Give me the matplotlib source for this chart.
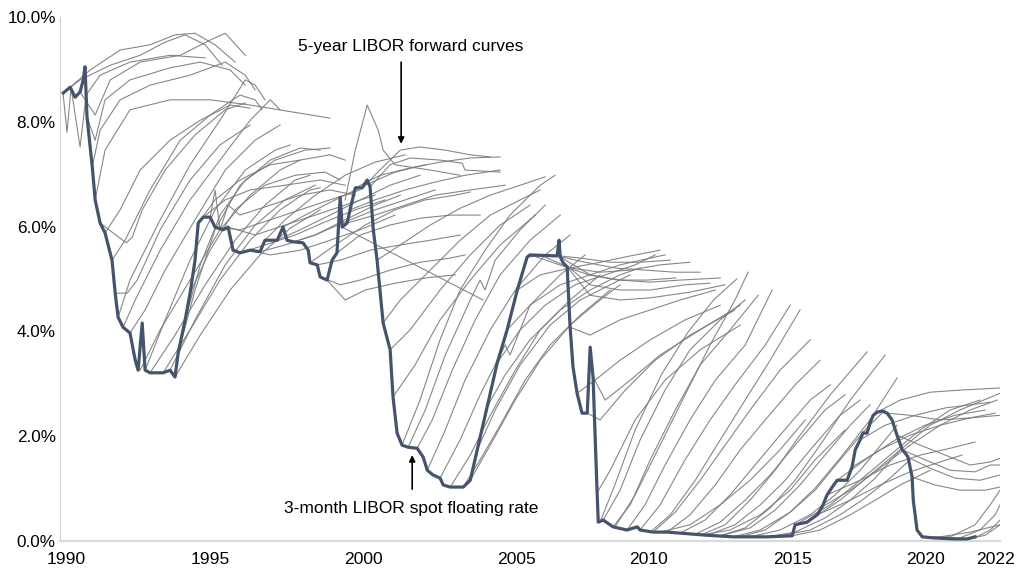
"""
3-month LIBOR spot rate against the 5-year LIBOR forward curves, 1990-2022.
Writes out.png.
"""

import matplotlib
matplotlib.use("Agg")
import matplotlib.pyplot as plt


# 3-month LIBOR spot floating rate (%)
SPOT_YEARS = [
    1989.90, 1990.14, 1990.31, 1990.48, 1990.59, 1990.65, 1990.72, 1990.90, 1991.00, 1991.17,
    1991.34, 1991.58, 1991.69, 1991.79, 1991.96, 1992.20, 1992.38, 1992.48, 1992.62, 1992.72,
    1992.89, 1993.34, 1993.58, 1993.75, 1993.86, 1994.10, 1994.27, 1994.44, 1994.55, 1994.72,
    1994.96, 1995.13, 1995.41, 1995.58, 1995.75, 1995.99, 1996.34, 1996.68, 1996.85, 1997.27,
    1997.47, 1997.61, 1997.82, 1998.16, 1998.34, 1998.40, 1998.65, 1998.75, 1998.99, 1999.16,
    1999.33, 1999.44, 1999.51, 1999.68, 1999.78, 1999.96, 2000.20, 2000.37, 2000.47, 2000.58,
    2000.71, 2000.92, 2001.16, 2001.26, 2001.40, 2001.57, 2001.78, 2002.09, 2002.30, 2002.44,
    2002.64, 2002.88, 2002.99, 2003.23, 2003.68, 2003.92, 2004.16, 2004.50, 2004.85, 2005.19,
    2005.54, 2005.88, 2005.98, 2006.91, 2006.98, 2007.02, 2007.12, 2007.26, 2007.29, 2007.36,
    2007.46, 2007.60, 2007.77, 2007.95, 2008.05, 2008.15, 2008.29, 2008.33, 2008.50, 2008.84,
    2009.32, 2009.67, 2009.77, 2010.22, 2010.70, 2011.15, 2012.08, 2012.98, 2014.15, 2015.01,
    2015.11, 2015.52, 2015.87, 2016.04, 2016.21, 2016.39, 2016.56, 2016.90, 2017.07, 2017.18,
    2017.35, 2017.45, 2017.59, 2017.69, 2017.80, 2017.94, 2018.11, 2018.28, 2018.45, 2018.62,
    2018.80, 2018.90, 2019.00, 2019.14, 2019.18, 2019.31, 2019.49, 2019.86, 2020.55, 2021.04,
    2021.31,
]
SPOT_RATES = [
    8.55, 8.66, 8.47, 8.57, 8.80, 9.05, 8.09, 7.14, 6.51, 6.07,
    5.88, 5.36, 4.73, 4.27, 4.08, 3.97, 3.45, 3.26, 4.16, 3.26,
    3.21, 3.21, 3.26, 3.13, 3.59, 4.22, 4.73, 5.36, 6.07, 6.18,
    6.18, 5.99, 5.94, 5.99, 5.55, 5.50, 5.55, 5.52, 5.74, 5.74,
    5.99, 5.74, 5.71, 5.69, 5.55, 5.31, 5.27, 5.04, 4.98, 5.36,
    5.50, 6.56, 5.99, 6.07, 6.32, 6.74, 6.74, 6.89, 6.76, 5.94,
    5.36, 4.16, 3.65, 2.75, 2.06, 1.83, 1.79, 1.77, 1.60, 1.35,
    1.26, 1.20, 1.07, 1.03, 1.03, 1.16, 1.74, 2.56, 3.40, 4.03,
    4.79, 5.42, 5.46, 5.44, 5.74, 5.42, 5.31, 5.23, 4.85, 4.08,
    3.32, 2.82, 2.44, 2.44, 3.70, 3.13, 0.92, 0.36, 0.40, 0.27,
    0.21, 0.27, 0.21, 0.17, 0.17, 0.15, 0.11, 0.08, 0.08, 0.10,
    0.31, 0.36, 0.50, 0.65, 0.88, 1.03, 1.16, 1.16, 1.41, 1.74,
    1.93, 2.06, 2.06, 2.25, 2.40, 2.46, 2.48, 2.44, 2.31, 2.02,
    1.74, 1.68, 1.60, 1.22, 0.78, 0.21, 0.08, 0.06, 0.04, 0.04,
    0.08,
]

# 5-year LIBOR forward curves: one (years, rates) pair per curve
FWD_YEARS = [
    # 1990-1991
    [1989.90, 1990.03, 1990.17, 1990.48, 1990.69, 1991.17, 1992.20, 1993.58, 1994.79],
    [1989.90, 1990.48, 1991.52, 1992.55, 1993.41, 1994.10, 1994.79, 1995.37],
    [1990.14, 1990.83, 1991.86, 1992.89, 1993.75, 1994.44, 1995.13, 1995.82],
    [1990.48, 1991.00, 1991.52, 1992.55, 1993.93, 1994.96, 1995.48, 1996.17],
    [1990.72, 1991.00, 1991.34, 1992.20, 1993.58, 1994.62, 1995.65, 1996.17],
    [1990.90, 1991.17, 1991.86, 1992.89, 1994.27, 1995.48, 1996.17, 1996.51],
    [1991.00, 1991.34, 1992.20, 1993.58, 1994.96, 1996.34, 1999.09],
    [1991.58, 1992.03, 1992.89, 1993.93, 1994.96, 1995.99, 1996.51, 1996.75],
    [1991.79, 1992.20, 1993.24, 1994.27, 1995.30, 1996.17, 1996.51, 1996.85],
    [1991.96, 1992.38, 1993.24, 1994.27, 1995.30, 1996.34, 1997.03, 1997.37],
    [1992.20, 1992.72, 1993.41, 1994.44, 1995.48, 1996.51, 1997.37],
    [1991.34, 1991.86, 1992.55, 1993.58, 1994.62, 1995.65, 1996.34],
    [1991.17, 1991.62, 1992.07, 1992.28, 1992.62, 1993.41, 1994.44, 1995.48, 1996.17],
    [1991.69, 1992.10, 1992.45, 1993.24, 1994.27, 1995.30, 1996.34],
    # 1992-1994 trough
    [1992.55, 1993.24, 1994.27, 1995.30, 1996.34, 1997.37, 1998.06],
    [1992.89, 1993.75, 1994.79, 1995.82, 1996.85, 1997.89, 1998.40],
    [1993.34, 1994.27, 1995.30, 1996.34, 1997.37, 1998.40, 1998.75],
    [1993.75, 1994.62, 1995.65, 1996.68, 1997.72, 1998.75],
    [1993.58, 1994.44, 1995.48, 1996.51, 1997.54, 1998.58],
    [1992.72, 1993.41, 1994.27, 1995.13, 1996.17, 1997.20, 1997.72],
    [1993.86, 1994.44, 1995.13, 1995.99, 1997.03, 1998.06, 1998.75],
    [1994.10, 1994.62, 1995.30, 1996.17, 1997.20, 1998.23, 1999.09],
    # 1994-1995
    [1994.27, 1994.96, 1995.82, 1996.85, 1997.89, 1998.92, 1999.44],
    [1994.55, 1995.13, 1995.99, 1997.03, 1998.06, 1999.09, 1999.61],
    [1994.72, 1995.48, 1996.34, 1997.54, 1998.75, 1999.61],
    [1994.96, 1995.13, 1995.30, 1995.58, 1995.99, 1997.03, 1998.06, 1999.09, 1999.96],
    # 1995-1998
    [1995.13, 1995.99, 1997.03, 1998.06, 1999.09, 2000.13],
    [1995.58, 1996.51, 1997.54, 1998.58, 1999.61, 2000.64],
    [1995.99, 1996.85, 1997.89, 1998.92, 1999.96, 2000.99],
    [1996.68, 1997.54, 1998.58, 1999.61, 2000.64, 2001.51],
    [1997.27, 1998.06, 1999.09, 2000.13, 2001.16, 2002.19],
    [1997.82, 1998.58, 1999.61, 2000.64, 2001.68, 2002.71],
    [1996.34, 1997.03, 1998.06, 1999.09, 2000.13, 2001.33],
    [1996.85, 1997.54, 1998.58, 1999.61, 2000.64, 2001.68],
    [1997.47, 1998.23, 1999.27, 2000.30, 2001.33, 2002.37],
    [1998.75, 1999.44, 2000.13, 2001.16, 2002.19, 2003.23, 2003.74],
    [1998.99, 1999.61, 2000.30, 2001.33, 2002.37, 2003.40],
    [1998.65, 1999.44, 2000.47, 2001.51, 2002.54, 2003.57],
    [1998.40, 1999.27, 2000.30, 2001.33, 2002.37, 2003.40, 2003.92],
    # 1999-2000
    [1999.96, 2000.82, 2001.85, 2002.88, 2003.92, 2004.95],
    [2000.20, 2000.99, 2001.51, 2002.19, 2003.06, 2003.92, 2004.61],
    [2000.47, 2001.16, 2001.85, 2002.88, 2003.64, 2003.74, 2004.95],
    [1999.78, 2000.64, 2001.68, 2002.71, 2003.74, 2004.95],
    [1999.68, 2000.64, 2001.68, 2002.71, 2003.92, 2005.12],
    [1999.51, 2001.85, 2004.36],
    [1999.61, 1999.96, 2000.37, 2000.75, 2000.92, 2001.33, 2002.54, 2003.57],
    [1999.33, 2000.13, 2001.16, 2002.19, 2003.23, 2004.26],
    # 2000-2001 fall
    [2000.71, 2001.51, 2002.54, 2003.57, 2004.61, 2005.64, 2006.50],
    [2000.92, 2001.51, 2002.54, 2003.57, 2004.61, 2005.64, 2006.33],
    [2001.16, 2001.85, 2002.88, 2003.92, 2004.95, 2005.98],
    [2001.26, 2002.02, 2002.88, 2003.92, 2004.95, 2006.16],
    # 2001-2004 low
    [2001.57, 2002.19, 2002.88, 2003.57, 2004.43, 2005.29, 2006.33, 2006.84],
    [2001.78, 2002.37, 2003.06, 2003.92, 2004.26, 2004.43, 2004.78, 2005.64, 2006.50],
    [2002.09, 2002.61, 2003.30, 2004.09, 2004.95, 2005.98, 2007.02],
    [2002.44, 2003.06, 2003.74, 2004.61, 2005.47, 2006.50, 2007.36],
    [2002.88, 2003.57, 2004.26, 2005.12, 2005.29, 2005.98, 2007.02, 2007.88],
    [2003.23, 2003.92, 2004.61, 2005.47, 2006.33, 2007.36, 2008.39],
    [2003.68, 2004.26, 2004.95, 2005.81, 2006.67, 2007.71, 2008.74],
    [2003.92, 2004.61, 2005.47, 2006.33, 2007.36, 2008.39, 2009.08],
    # 2004-2006 rise
    [2004.16, 2004.78, 2005.64, 2006.67, 2007.71, 2008.74, 2009.43],
    [2004.50, 2005.12, 2005.98, 2007.02, 2008.05, 2009.08, 2009.77],
    [2004.85, 2005.64, 2006.50, 2007.53, 2008.57, 2009.60, 2010.29],
    [2005.19, 2005.98, 2007.02, 2008.05, 2009.08, 2010.12, 2010.63],
    [2005.54, 2006.33, 2007.36, 2008.39, 2009.43, 2010.46],
    [2005.88, 2006.67, 2007.71, 2008.74, 2009.77, 2010.81],
    # 2006-2007 plateau
    [2006.91, 2007.88, 2008.91, 2009.94, 2010.98, 2011.84],
    [2007.02, 2008.05, 2009.08, 2010.12, 2011.15, 2012.53],
    [2007.12, 2008.05, 2009.08, 2010.12, 2011.32, 2012.18],
    [2006.33, 2007.36, 2008.39, 2009.43, 2010.46, 2011.49],
    [2007.26, 2008.05, 2009.08, 2010.12, 2011.49, 2012.70],
    [2006.00, 2007.00, 2008.00, 2009.00, 2010.00, 2011.00],
    # 2007-2008 crisis
    [2007.36, 2008.05, 2009.08, 2010.12, 2011.15, 2012.36],
    [2007.60, 2008.22, 2009.08, 2010.12, 2011.32, 2012.53],
    [2007.95, 2008.39, 2009.26, 2010.29, 2011.49, 2013.04],
    [2008.15, 2008.57, 2009.43, 2010.46, 2011.84, 2013.22],
    [2008.29, 2008.74, 2009.60, 2010.63, 2011.84, 2013.22],
    # 2008-2015 near zero
    [2008.39, 2008.90, 2009.60, 2010.50, 2011.40, 2012.30, 2013.10],
    [2008.50, 2009.08, 2009.77, 2010.63, 2011.49, 2012.53, 2013.39],
    [2008.84, 2009.43, 2010.12, 2010.98, 2011.84, 2012.87, 2013.84],
    [2009.32, 2009.94, 2010.63, 2011.49, 2012.36, 2013.39, 2014.32],
    [2009.77, 2010.46, 2011.32, 2012.18, 2013.04, 2014.08, 2014.94],
    [2010.22, 2010.98, 2011.84, 2012.70, 2013.56, 2014.59, 2015.63],
    [2010.70, 2011.49, 2012.36, 2013.22, 2014.08, 2015.11, 2015.97],
    [2011.15, 2012.01, 2012.87, 2013.73, 2014.59, 2015.63, 2016.32],
    [2011.67, 2012.53, 2013.39, 2014.25, 2015.11, 2016.14, 2016.83],
    [2012.08, 2013.04, 2013.91, 2014.77, 2015.63, 2016.66, 2017.35],
    [2012.53, 2013.56, 2014.42, 2015.28, 2016.14, 2017.01, 2017.69],
    [2012.98, 2013.91, 2014.94, 2015.80, 2016.66, 2017.52, 2018.21],
    [2013.56, 2014.59, 2015.63, 2016.49, 2017.35, 2018.21, 2018.62],
    [2014.15, 2015.11, 2016.14, 2017.01, 2017.87, 2018.73],
    [2014.59, 2015.63, 2016.66, 2017.52, 2018.38, 2019.07],
    [2015.01, 2015.97, 2017.01, 2017.87, 2018.73, 2019.76],
    [2010.46, 2011.49, 2012.53, 2013.56, 2014.59, 2015.46],
    [2011.84, 2012.87, 2013.91, 2014.94, 2015.80, 2016.83],
    [2011.84, 2012.70, 2013.56, 2014.42, 2015.28, 2016.32, 2017.59],
    [2012.53, 2013.39, 2014.25, 2015.11, 2015.97, 2017.01, 2018.21],
    [2013.22, 2014.08, 2014.94, 2015.80, 2016.66, 2017.69, 2018.62],
    [2010.12, 2010.81, 2011.67, 2012.53, 2013.39, 2014.25, 2015.28],
    [2008.91, 2009.60, 2010.46, 2011.32, 2012.18, 2013.04, 2013.49],
    # 2015-2018 hikes
    [2015.11, 2016.32, 2017.35, 2018.38, 2019.42, 2020.45, 2021.48],
    [2015.52, 2016.66, 2017.69, 2018.73, 2019.76, 2020.79, 2022.17],
    [2016.04, 2017.01, 2018.04, 2019.07, 2020.11, 2021.14, 2022.07],
    [2016.56, 2017.52, 2018.56, 2019.59, 2020.62, 2021.66],
    [2017.07, 2018.04, 2019.07, 2020.11, 2021.14, 2022.00],
    [2017.94, 2018.73, 2019.76, 2020.79, 2022.17],
    [2016.21, 2017.35, 2018.38, 2019.42, 2020.45, 2021.31],
    [2015.87, 2017.01, 2018.04, 2019.07, 2020.11, 2020.86],
    [2018.28, 2019.07, 2020.11, 2021.14, 2022.17],
    [2017.35, 2018.21, 2019.25, 2020.28, 2021.31, 2021.83],
    # 2018-2019 cuts
    [2018.62, 2019.42, 2020.28, 2021.14, 2021.83, 2022.17],
    [2018.80, 2019.59, 2020.45, 2021.31, 2021.83, 2022.17],
    [2019.00, 2019.76, 2020.62, 2021.48, 2022.17],
    [2019.14, 2019.93, 2020.79, 2021.66, 2022.17],
    # 2020-2022
    [2019.49, 2020.45, 2021.31, 2021.83, 2022.17],
    [2019.86, 2020.79, 2021.48, 2022.00, 2022.17],
    [2020.55, 2021.31, 2021.83, 2022.17],
    [2021.04, 2021.66, 2022.17],
    [2020.11, 2021.14, 2022.17],
]
FWD_RATES = [
    # 1990-1991
    [8.51, 7.80, 8.65, 7.52, 8.51, 8.89, 9.14, 9.27, 9.22],
    [8.55, 8.80, 9.08, 9.27, 9.52, 9.66, 9.47, 9.08],
    [8.66, 8.99, 9.37, 9.47, 9.66, 9.69, 9.47, 9.14],
    [8.57, 8.13, 8.80, 9.14, 9.27, 9.56, 9.69, 9.27],
    [8.09, 7.65, 8.42, 8.80, 9.03, 9.14, 8.99, 8.70],
    [7.14, 7.84, 8.42, 8.70, 8.89, 9.14, 8.89, 8.61],
    [6.51, 7.46, 8.23, 8.42, 8.42, 8.32, 8.07],
    [5.36, 5.74, 6.70, 7.65, 8.13, 8.51, 8.42, 8.23],
    [4.27, 4.98, 6.13, 7.18, 8.03, 8.80, 8.70, 8.42],
    [4.08, 4.60, 5.55, 6.51, 7.27, 8.03, 8.42, 8.23],
    [3.97, 4.41, 5.17, 6.13, 7.08, 7.65, 7.94],
    [5.88, 6.32, 7.08, 7.65, 8.03, 8.32, 8.26],
    [6.07, 5.88, 5.69, 5.80, 6.32, 7.08, 7.75, 8.23, 8.36],
    [4.73, 4.73, 4.98, 5.94, 6.89, 7.56, 7.94],
    # 1992-1994 trough
    [3.26, 4.03, 4.98, 5.94, 6.60, 7.08, 7.27],
    [3.21, 3.93, 4.89, 5.74, 6.41, 6.89, 6.98],
    [3.21, 4.03, 4.98, 5.74, 6.32, 6.70, 6.74],
    [3.13, 3.93, 4.79, 5.46, 5.97, 6.32],
    [3.26, 4.22, 5.27, 6.03, 6.51, 6.79],
    [3.26, 4.22, 5.36, 6.32, 7.08, 7.46, 7.56],
    [3.59, 4.79, 5.94, 6.79, 7.27, 7.50, 7.46],
    [4.22, 5.27, 6.22, 6.89, 7.27, 7.46, 7.50],
    # 1994-1995
    [4.73, 5.55, 6.32, 6.79, 6.98, 7.04, 6.89],
    [6.07, 6.51, 6.89, 7.18, 7.27, 7.37, 7.27],
    [6.18, 6.51, 6.70, 6.79, 6.89, 6.79],
    [6.18, 6.70, 5.94, 6.41, 6.22, 6.41, 6.60, 6.70, 6.60],
    # 1995-1998
    [5.99, 5.94, 6.13, 6.32, 6.51, 6.70],
    [5.99, 5.84, 6.03, 6.22, 6.41, 6.60],
    [5.50, 5.65, 5.84, 6.09, 6.32, 6.51],
    [5.52, 5.65, 5.84, 6.13, 6.41, 6.60],
    [5.74, 5.94, 6.22, 6.51, 6.79, 6.98],
    [5.71, 5.84, 6.09, 6.32, 6.51, 6.70],
    [5.55, 5.46, 5.55, 5.74, 5.94, 6.22],
    [5.74, 6.13, 6.60, 6.98, 7.23, 7.37],
    [5.99, 6.22, 6.51, 6.79, 7.04, 7.18],
    [5.04, 4.89, 4.98, 5.17, 5.32, 5.40, 5.46],
    [4.98, 4.60, 4.79, 4.92, 5.02, 5.08],
    [5.27, 5.36, 5.55, 5.65, 5.74, 5.84],
    [5.31, 5.65, 6.03, 6.32, 6.51, 6.60, 6.66],
    # 1999-2000
    [6.74, 6.98, 7.12, 7.23, 7.31, 7.33],
    [6.74, 7.18, 7.46, 7.52, 7.46, 7.37, 7.33],
    [6.76, 7.18, 7.31, 7.27, 7.21, 7.08, 7.04],
    [6.32, 6.51, 6.70, 6.85, 6.98, 7.08],
    [6.07, 6.22, 6.41, 6.60, 6.70, 6.79],
    [5.99, 5.32, 4.60],
    [6.51, 7.46, 8.32, 7.84, 7.46, 7.18, 7.08, 6.98],
    [5.50, 5.84, 6.03, 6.16, 6.22, 6.22],
    # 2000-2001 fall
    [5.36, 5.65, 6.03, 6.35, 6.60, 6.79, 6.95],
    [4.16, 4.60, 5.17, 5.74, 6.22, 6.51, 6.70],
    [3.65, 4.03, 4.79, 5.46, 6.03, 6.41],
    [2.75, 3.36, 4.22, 4.98, 5.65, 6.22],
    # 2001-2004 low
    [1.83, 2.69, 3.84, 4.79, 5.55, 6.22, 6.79, 6.98],
    [1.79, 2.50, 3.55, 4.60, 4.98, 4.79, 5.36, 5.94, 6.41],
    [1.77, 2.31, 3.26, 4.22, 5.08, 5.74, 6.22],
    [1.35, 2.12, 3.07, 4.03, 4.79, 5.46, 5.84],
    [1.20, 1.93, 2.79, 3.74, 3.55, 4.50, 5.08, 5.46],
    [1.03, 1.64, 2.40, 3.26, 4.03, 4.60, 5.08],
    [1.03, 1.55, 2.21, 3.07, 3.74, 4.31, 4.79],
    [1.16, 1.83, 2.69, 3.45, 4.12, 4.60, 4.89],
    # 2004-2006 rise
    [1.74, 2.50, 3.36, 4.12, 4.60, 4.89, 5.08],
    [2.56, 3.17, 3.84, 4.41, 4.79, 5.08, 5.21],
    [3.40, 4.03, 4.50, 4.89, 5.08, 5.27, 5.46],
    [4.03, 4.50, 4.89, 5.08, 5.27, 5.40, 5.46],
    [4.79, 5.08, 5.21, 5.32, 5.44, 5.55],
    [5.42, 5.46, 5.40, 5.32, 5.32, 5.36],
    # 2006-2007 plateau
    [5.44, 5.32, 5.21, 5.17, 5.13, 5.13],
    [5.42, 5.08, 4.98, 4.94, 4.98, 5.02],
    [5.31, 4.89, 4.79, 4.79, 4.89, 4.92],
    [5.46, 5.21, 5.13, 5.17, 5.27, 5.32],
    [5.23, 4.69, 4.60, 4.64, 4.75, 4.89],
    [5.46, 5.27, 5.08, 4.98, 4.98, 5.02],
    # 2007-2008 crisis
    [4.08, 3.93, 4.22, 4.41, 4.60, 4.79],
    [2.82, 3.07, 3.45, 3.84, 4.22, 4.50],
    [2.44, 2.31, 2.88, 3.45, 3.93, 4.41],
    [3.13, 2.69, 3.07, 3.55, 4.03, 4.50],
    [0.92, 1.35, 2.31, 3.07, 3.65, 4.12],
    # 2008-2015 near zero
    [0.36, 1.07, 2.12, 3.17, 3.97, 4.60, 5.00],
    [0.40, 0.97, 1.93, 2.88, 3.65, 4.22, 4.60],
    [0.27, 0.69, 1.55, 2.50, 3.36, 4.03, 4.69],
    [0.21, 0.69, 1.45, 2.31, 3.07, 3.74, 4.79],
    [0.21, 0.69, 1.55, 2.31, 2.98, 3.74, 4.50],
    [0.17, 0.55, 1.16, 1.83, 2.50, 3.26, 3.84],
    [0.17, 0.50, 1.07, 1.74, 2.31, 2.98, 3.45],
    [0.15, 0.40, 0.88, 1.45, 2.02, 2.69, 2.98],
    [0.13, 0.36, 0.78, 1.26, 1.83, 2.50, 2.79],
    [0.11, 0.31, 0.69, 1.16, 1.74, 2.40, 2.69],
    [0.10, 0.25, 0.59, 1.07, 1.64, 2.21, 2.60],
    [0.08, 0.21, 0.55, 0.97, 1.55, 2.12, 2.50],
    [0.08, 0.21, 0.50, 0.88, 1.35, 1.93, 2.21],
    [0.08, 0.17, 0.44, 0.78, 1.20, 1.74],
    [0.10, 0.21, 0.50, 0.82, 1.20, 1.55],
    [0.10, 0.21, 0.50, 0.78, 1.07, 1.35],
    [0.17, 0.31, 0.69, 1.16, 1.74, 2.31],
    [0.11, 0.21, 0.50, 0.97, 1.55, 2.12],
    [0.11, 0.31, 0.78, 1.35, 2.02, 2.79, 3.61],
    [0.10, 0.25, 0.63, 1.16, 1.83, 2.69, 3.55],
    [0.08, 0.21, 0.55, 1.01, 1.58, 2.31, 3.11],
    [0.17, 0.50, 1.16, 1.93, 2.69, 3.45, 4.41],
    [0.27, 0.88, 1.83, 2.79, 3.74, 4.60, 5.13],
    # 2015-2018 hikes
    [0.31, 0.69, 1.16, 1.64, 2.12, 2.50, 2.69],
    [0.36, 0.78, 1.26, 1.74, 2.21, 2.50, 2.82],
    [0.65, 0.97, 1.39, 1.83, 2.21, 2.50, 2.69],
    [1.16, 1.55, 1.93, 2.21, 2.40, 2.50],
    [1.41, 1.74, 2.02, 2.21, 2.35, 2.44],
    [2.46, 2.69, 2.84, 2.88, 2.92],
    [0.88, 1.16, 1.45, 1.64, 1.77, 1.89],
    [0.50, 0.78, 1.07, 1.32, 1.51, 1.64],
    [2.44, 2.40, 2.31, 2.35, 2.40],
    [1.93, 2.21, 2.40, 2.54, 2.61, 2.65],
    # 2018-2019 cuts
    [2.02, 1.83, 1.64, 1.45, 1.51, 1.58],
    [1.74, 1.55, 1.35, 1.32, 1.45, 1.45],
    [1.60, 1.39, 1.20, 1.16, 1.26],
    [1.22, 1.07, 0.97, 0.97, 1.03],
    # 2020-2022
    [0.08, 0.08, 0.31, 0.69, 0.97],
    [0.06, 0.06, 0.21, 0.50, 0.69],
    [0.04, 0.06, 0.21, 0.40],
    [0.04, 0.11, 0.31],
    [0.08, 0.17, 0.31],
]

YEAR_LABELS = ["1990", "1995", "2000", "2005", "2010", "2015", "2020", "2022"]
RATE_TICKS = [0, 2, 4, 6, 8, 10]

SPOT_COLOR = "#46536c"
FWD_COLOR = "#7a7a7a"

plt.rcParams["font.family"] = ["Liberation Sans", "DejaVu Sans"]

fig = plt.figure(figsize=(10.21, 5.75), dpi=100)
ax = fig.add_axes([0.0588, 0.0591, 0.9207, 0.9113])

for xs, ys in zip(FWD_YEARS, FWD_RATES):
    ax.plot(xs, ys, color=FWD_COLOR, linewidth=0.8, alpha=0.9, zorder=2)

ax.plot(SPOT_YEARS, SPOT_RATES, color=SPOT_COLOR, linewidth=2.3,
        solid_joinstyle="round", zorder=3)

ax.set_xlim(1989.79, 2022.17)
ax.set_ylim(0, 10)

# year labels sit where the source chart put them (its axis is not quite uniform)
ax.set_xticks([1990.0, 1994.96, 2000.23, 2005.50, 2010.05, 2015.01, 2019.59, 2022.0])
ax.set_xticklabels(YEAR_LABELS)
ax.set_yticks(RATE_TICKS)
ax.set_yticklabels([f"{v:.1f}%" for v in RATE_TICKS])
ax.tick_params(axis="x", length=0, pad=8, labelsize=12.6, colors="black")
ax.tick_params(axis="y", length=0, pad=3, labelsize=12.3, colors="black")

for side in ("top", "right"):
    ax.spines[side].set_visible(False)
ax.spines["left"].set_color("#cfcfcf")
ax.spines["left"].set_linewidth(0.8)
ax.spines["bottom"].set_color("#dadada")
ax.spines["bottom"].set_linewidth(1.6)

# annotations
ax.text(2001.87, 9.43, "5-year LIBOR forward curves", ha="center", va="center",
        fontsize=12.5)
ax.annotate("", xy=(2001.54, 7.58), xytext=(2001.54, 9.14),
            arrowprops=dict(arrowstyle="-|>", color="black", lw=1.2,
                            mutation_scale=9, shrinkA=0, shrinkB=0))
ax.text(2001.87, 0.63, "3-month LIBOR spot floating rate", ha="center",
        va="center", fontsize=12.5)
ax.annotate("", xy=(2001.92, 1.64), xytext=(2001.92, 0.99),
            arrowprops=dict(arrowstyle="-|>", color="black", lw=1.2,
                            mutation_scale=9, shrinkA=0, shrinkB=0))

fig.savefig("out.png", dpi=100)
